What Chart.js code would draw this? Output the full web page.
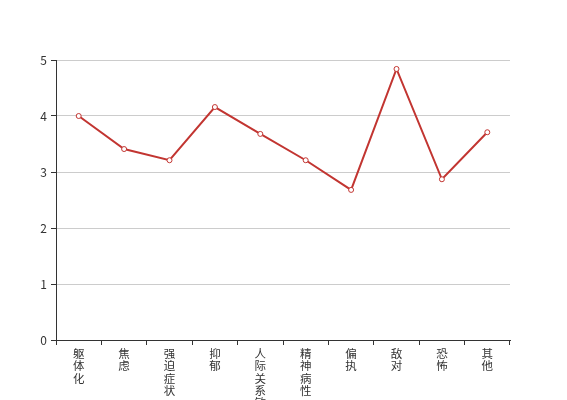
<!DOCTYPE html>
<html>
<head>
<meta charset="utf-8">
<script src="https://cdn.jsdelivr.net/npm/chart.js@4"></script>
<style>
  html, body { margin: 0; padding: 0; background: #fff; }
  #wrap { width: 567px; height: 400px; }
</style>
</head>
<body>
<div id="wrap"><canvas id="chart"></canvas></div>
<script>
// Data
const categories = ['躯体化', '焦虑', '强迫症状', '抑郁', '人际关系敏感', '精神病性', '偏执', '敌对', '恐怖', '其他'];
const scores = [4.0, 3.41, 3.21, 4.16, 3.68, 3.21, 2.68, 4.84, 2.87, 3.71];
const yTicks = [0, 1, 2, 3, 4, 5];

const red = '#c23531';
const axisColor = '#333';
const fontFamily = '"Noto Sans CJK SC", "Noto Sans", sans-serif';

// vertical labels: one character per line
const verticalLabels = categories.map(c => c.split(''));

const ctx = document.getElementById('chart').getContext('2d');
new Chart(ctx, {
    type: 'line',
    data: {
        labels: verticalLabels,
        datasets: [{
            data: scores,
            borderColor: red,
            borderWidth: 2,
            backgroundColor: '#fff',
            pointBackgroundColor: '#fff',
            pointBorderColor: red,
            pointBorderWidth: 1,
            pointRadius: 2.5,
            tension: 0,
            fill: false
        }]
    },
    options: {
        responsive: true,
        maintainAspectRatio: false,
        animation: false,
        layout: { padding: { top: 60, right: 57, left: 0, bottom: 0 } },
        plugins: {
            legend: { display: false },
            tooltip: { enabled: false }
        },
        scales: {
            x: {
                offset: true,
                grid: {
                    offset: true,
                    drawOnChartArea: false,
                    drawTicks: true,
                    tickLength: 5,
                    tickColor: axisColor
                },
                border: { color: axisColor, width: 1 },
                ticks: {
                    color: axisColor,
                    autoSkip: false,
                    maxRotation: 0,
                    padding: 3,
                    font: { family: fontFamily, size: 11.5, lineHeight: 1.05 }
                },
                afterFit: scale => { scale.height = 60; }
            },
            y: {
                min: 0,
                max: 5,
                afterBuildTicks: scale => { scale.ticks = yTicks.map(v => ({ value: v })); },
                grid: {
                    color: '#ccc',
                    tickColor: axisColor,
                    tickLength: 5
                },
                border: { color: axisColor, width: 1 },
                ticks: {
                    color: axisColor,
                    padding: 4,
                    font: { family: fontFamily, size: 12 }
                },
                afterFit: scale => { scale.width = 56; }
            }
        }
    }
});
</script>
</body>
</html>
